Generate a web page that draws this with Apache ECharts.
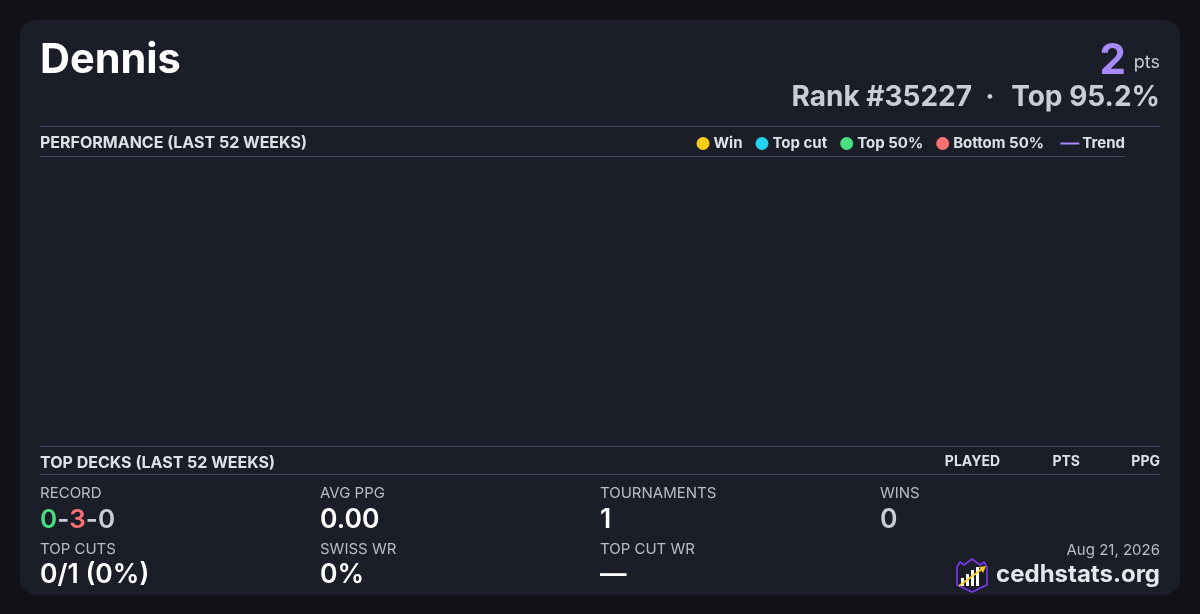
<!DOCTYPE html>
<html>
<head>
<meta charset="utf-8">
<script src="https://cdn.jsdelivr.net/npm/echarts@6/dist/echarts.min.js"></script>
<style>
html,body{margin:0;padding:0;background:#111217;}
#c{width:1200px;height:614px;}
</style>
</head>
<body>
<div id="c"></div>
<script>
// ---- data ----
const playerName = 'Dennis';
const points = 2;
const rankText = 'Rank #35227';
const topText = 'Top 95.2%';
const chartTitle = 'PERFORMANCE (LAST 52 WEEKS)';
const decksTitle = 'TOP DECKS (LAST 52 WEEKS)';
const deckColumns = ['PLAYED', 'PTS', 'PPG'];
const legendNames = ['Win', 'Top cut', 'Top 50%', 'Bottom 50%'];
const legendColors = ['#facc15', '#22d3ee', '#4ade80', '#f87171'];
const trendName = 'Trend';
const trendColor = '#a78bfa';
// weekly results (none in the last 52 weeks)
const winPoints = [];
const topCutPoints = [];
const top50Points = [];
const bottom50Points = [];
const trendPoints = [];
const record = [0, 3, 0]; // W-L-D
const statLabelsRow1 = ['RECORD', 'AVG PPG', 'TOURNAMENTS', 'WINS'];
const statValuesRow1 = [null, '0.00', '1', '0'];
const statLabelsRow2 = ['TOP CUTS', 'SWISS WR', 'TOP CUT WR'];
const statValuesRow2 = ['0/1 (0%)', '0%', '—'];
const dateText = 'Aug 21, 2026';
const siteText = 'cedhstats.org';

// ---- styles ----
const FONT = 'Inter, "Noto Sans", sans-serif';
const lineColor = '#3e4a60';
const labelColor = '#b9bec9';
const headColor = '#dde1ea';

const chart = echarts.init(document.getElementById('c'), null, {renderer: 'canvas'});

function txt(text, x, y, size, weight, color, align) {
  return {type: 'text', silent: true, style: {text: text, x: x, y: y, fill: color,
    font: weight + ' ' + size + 'px ' + FONT, align: align || 'left', verticalAlign: 'middle'}};
}
function hline(x1, x2, y) {
  return {type: 'line', silent: true, shape: {x1: x1, y1: y, x2: x2, y2: y}, style: {stroke: lineColor, lineWidth: 1}};
}

const colX = [40, 320, 600, 880];
const graphics = [
  {type: 'rect', silent: true, z: -10, shape: {x: 20, y: 20, width: 1160, height: 575, r: 16}, style: {fill: '#1b1d28'}},
  txt(playerName, 40, 60.5, 41.5, 'bold', '#ffffff'),
  txt(String(points), 1126, 61, 42, 'bold', '#a78bfa', 'right'),
  txt('pts', 1160, 63, 18, 'normal', '#c8ccd6', 'right'),
  txt(rankText, 972, 98, 28, 'bold', '#c9cdd8', 'right'),
  txt('·', 990, 98, 28, 'bold', '#c9cdd8', 'center'),
  txt(topText, 1160, 98, 28, 'bold', '#c9cdd8', 'right'),
  hline(40, 1160, 126.5),
  hline(40, 1125, 156.5),
  txt(chartTitle, 40, 143, 16, 'bold', headColor),
  hline(40, 1160, 446.5),
  hline(40, 1160, 474.5),
  txt(decksTitle, 40, 463, 16, 'bold', headColor),
  txt(deckColumns[0], 1000, 462, 14, 'bold', headColor, 'right'),
  txt(deckColumns[1], 1080, 462, 14, 'bold', headColor, 'right'),
  txt(deckColumns[2], 1160, 462, 14, 'bold', headColor, 'right'),
  txt(dateText, 1160, 550, 15, 'normal', labelColor, 'right'),
  txt(siteText, 1160, 575, 24, 'bold', '#e4e7ee', 'right')
];
statLabelsRow1.forEach((l, i) => graphics.push(txt(l, colX[i], 493, 15, 'normal', labelColor)));
statLabelsRow2.forEach((l, i) => graphics.push(txt(l, colX[i], 549, 15, 'normal', labelColor)));
// record with colored parts
graphics.push({type: 'text', silent: true, style: {
  text: '{w|' + record[0] + '}{d|-}{l|' + record[1] + '}{d|-}{d|' + record[2] + '}',
  x: 40, y: 520, verticalAlign: 'middle', align: 'left',
  rich: {
    w: {fill: '#4ade80', font: '600 26px ' + FONT},
    l: {fill: '#f87171', font: '600 26px ' + FONT},
    d: {fill: '#c9cdd6', font: '600 26px ' + FONT}
  }}});
statValuesRow1.forEach((v, i) => {
  if (v === null) return;
  graphics.push(txt(v, colX[i], 520, 26.5, '600', i === 3 ? '#c9cdd6' : '#ffffff'));
});
statValuesRow2.forEach((v, i) => graphics.push(txt(v, colX[i], 575, 26.5, '600', '#ffffff')));

// logo
graphics.push({type: 'group', silent: true, children: [
  {type: 'polygon', shape: {points: [[957,567],[960,562],[964,565],[972,559],[980,565],[984,562],[987,567],[987,585],[972,592],[957,585]]},
    style: {fill: '#1b1d28', stroke: '#7c3aed', lineWidth: 1.6}},
  {type: 'rect', shape: {x: 961, y: 578, width: 3, height: 8}, style: {fill: '#ffffff'}},
  {type: 'rect', shape: {x: 966, y: 574, width: 3, height: 12}, style: {fill: '#ffffff'}},
  {type: 'rect', shape: {x: 971, y: 570, width: 3, height: 16}, style: {fill: '#ffffff'}},
  {type: 'rect', shape: {x: 976, y: 567, width: 3, height: 19}, style: {fill: '#ffffff'}},
  {type: 'line', shape: {x1: 959, y1: 586, x2: 982, y2: 569}, style: {stroke: '#facc15', lineWidth: 1.8}},
  {type: 'polygon', shape: {points: [[986,566],[979,567],[983,573]]}, style: {fill: '#facc15'}}
]});

const legendText = {color: headColor, fontFamily: 'Inter', fontWeight: 'bold', fontSize: 15, padding: [0, 0, 0, -1]};
const option = {
  backgroundColor: '#111217',
  animation: false,
  grid: {left: 40, right: 75, top: 160, bottom: 614 - 443},
  xAxis: {type: 'value', show: false, min: 0, max: 52},
  yAxis: {type: 'value', show: false, min: 0, max: 10},
  legend: [
    {data: legendNames.map(n => ({name: n, icon: 'circle'})), right: 156, top: 136, padding: 0,
      itemWidth: 13, itemHeight: 13, itemGap: 13, textStyle: legendText},
    {data: [{name: trendName, icon: 'rect'}], right: 75, top: 136, padding: 0, itemWidth: 19, itemHeight: 2,
      textStyle: Object.assign({}, legendText, {padding: [0, 0, 0, -2]})}
  ],
  series: [
    {name: legendNames[0], type: 'scatter', data: winPoints, itemStyle: {color: legendColors[0], opacity: 1}},
    {name: legendNames[1], type: 'scatter', data: topCutPoints, itemStyle: {color: legendColors[1], opacity: 1}},
    {name: legendNames[2], type: 'scatter', data: top50Points, itemStyle: {color: legendColors[2], opacity: 1}},
    {name: legendNames[3], type: 'scatter', data: bottom50Points, itemStyle: {color: legendColors[3], opacity: 1}},
    {name: trendName, type: 'line', data: trendPoints, symbol: 'none', lineStyle: {color: trendColor, width: 2}, itemStyle: {color: trendColor}}
  ],
  graphic: graphics
};
chart.setOption(option);
</script>
</body>
</html>
